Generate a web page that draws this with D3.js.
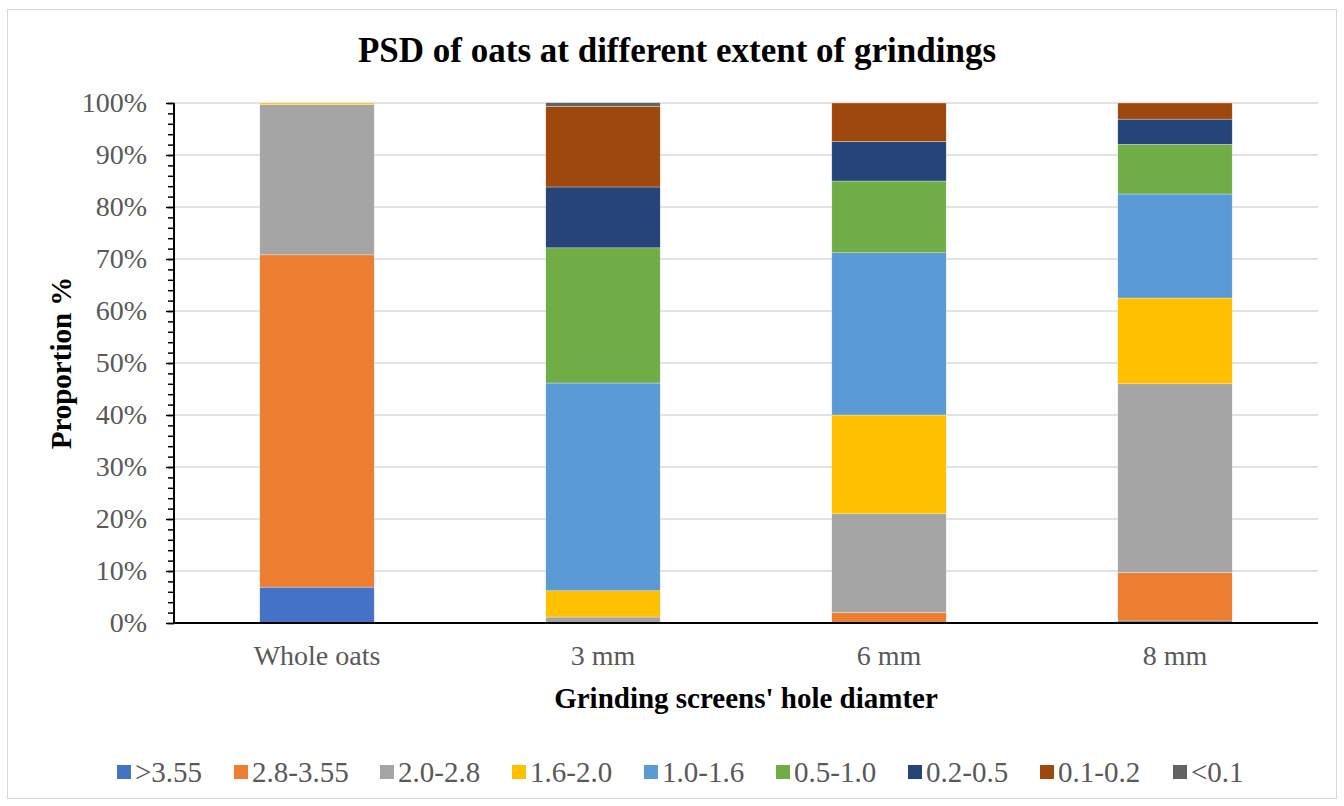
<!DOCTYPE html>
<html><head><meta charset="utf-8">
<script src="https://cdn.jsdelivr.net/npm/d3@7"></script>
<style>body{margin:0;background:#fff}svg{display:block}</style>
</head><body>
<svg id="c" width="1344" height="806"></svg>
<script>
const categories = ["Whole oats", "3 mm", "6 mm", "8 mm"];
const seriesNames = [">3.55", "2.8-3.55", "2.0-2.8", "1.6-2.0", "1.0-1.6", "0.5-1.0", "0.2-0.5", "0.1-0.2", "<0.1"];
const colors = ["#4472C4", "#ED7D31", "#A5A5A5", "#FFC000", "#5B9BD5", "#70AD47", "#264478", "#9E480E", "#636363"];
const s_gt355 = [6.9, 0, 0, 0.4];
const s_28_355 = [63.9, 0, 2.0, 9.3];
const s_20_28 = [28.9, 1.15, 19.0, 36.3];
const s_16_20 = [0.3, 5.05, 19.0, 16.5];
const s_10_16 = [0, 39.95, 31.2, 20.0];
const s_05_10 = [0, 26.0, 13.8, 9.55];
const s_02_05 = [0, 11.7, 7.6, 4.85];
const s_01_02 = [0, 15.5, 7.4, 3.1];
const s_lt01 = [0, 0.7, 0, 0];
const yTicks = [0, 10, 20, 30, 40, 50, 60, 70, 80, 90, 100];

const seriesVals = [s_gt355, s_28_355, s_20_28, s_16_20, s_10_16, s_05_10, s_02_05, s_01_02, s_lt01];
const rows = categories.map((c, i) => {
  const r = {cat: c};
  seriesNames.forEach((s, j) => r[s] = seriesVals[j][i]);
  return r;
});
const stack = d3.stack().keys(seriesNames)(rows);

const svg = d3.select("#c");
const serif = "Liberation Serif, Times New Roman, serif";
svg.append("rect").attr("x", 7.5).attr("y", 9.5).attr("width", 1329).attr("height", 789)
  .attr("fill", "#fff").attr("stroke", "#d9d9d9").attr("stroke-width", 1);

const L = 174, R = 1318, T = 103, B = 623;
const x = d3.scaleBand().domain(categories).range([L, R]).paddingInner(0.6).paddingOuter(0.3);
const y = d3.scaleLinear().domain([0, 100]).range([B, T]);

// gridlines
svg.append("g").selectAll("line").data(yTicks.filter(d => d > 0)).join("line")
  .attr("x1", L).attr("x2", R).attr("y1", d => y(d)).attr("y2", d => y(d))
  .attr("stroke", "#d9d9d9").attr("stroke-width", 1.5);

// bars
svg.append("g").selectAll("g").data(stack).join("g")
  .attr("fill", (d, i) => colors[i])
  .selectAll("rect").data(d => d).join("rect")
  .attr("x", d => x(d.data.cat)).attr("width", x.bandwidth())
  .attr("y", d => y(d[1])).attr("height", d => Math.max(0, y(d[0]) - y(d[1])))
  .attr("stroke", "#fff").attr("stroke-width", 0.5).attr("stroke-opacity", 0.6);

// y axis
const ya = svg.append("g").attr("transform", `translate(${L},0)`)
  .call(d3.axisLeft(y).tickValues(d3.range(0, 101, 2)).tickSize(6).tickFormat(""));
ya.selectAll("line").attr("stroke", "#000").attr("stroke-width", 1.5);
ya.select(".domain").attr("stroke", "#000").attr("stroke-width", 2).attr("d", `M0,${B}V${T}`);
const yl = svg.append("g").attr("transform", `translate(${L},0)`)
  .call(d3.axisLeft(y).tickValues(yTicks).tickSize(8).tickPadding(19).tickFormat(d => d + "%"));
yl.select(".domain").remove();
yl.selectAll("line").attr("stroke", "#000").attr("stroke-width", 1.5);
yl.selectAll("text").style("font-family", serif).style("font-size", "28px").attr("fill", "#595959");

// x axis
const xa = svg.append("g").attr("transform", `translate(0,${B})`)
  .call(d3.axisBottom(x).tickSize(0).tickPadding(22));
xa.select(".domain").attr("stroke", "#000").attr("stroke-width", 2).attr("d", `M${L},0H${R}`);
xa.selectAll("text").style("font-family", serif).style("font-size", "28px").attr("fill", "#595959");

// titles
svg.append("text").attr("x", 677).attr("y", 62).attr("text-anchor", "middle")
  .style("font-family", serif).style("font-weight", "bold").style("font-size", "35px").attr("fill", "#000")
  .text("PSD of oats at different extent of grindings");
svg.append("text").attr("x", 746).attr("y", 708).attr("text-anchor", "middle")
  .style("font-family", serif).style("font-weight", "bold").style("font-size", "29px").attr("fill", "#000")
  .text("Grinding screens' hole diamter");
svg.append("text").attr("transform", "translate(71,363) rotate(-90)").attr("text-anchor", "middle")
  .style("font-family", serif).style("font-weight", "bold").style("font-size", "29px").attr("fill", "#000")
  .text("Proportion %");

// legend
const legX = [117, 234, 380, 512, 644, 776, 908, 1040, 1173];
const lg = svg.append("g").selectAll("g").data(seriesNames).join("g")
  .attr("transform", (d, i) => `translate(${legX[i]},765)`);
lg.append("rect").attr("width", 14).attr("height", 14).attr("fill", (d, i) => colors[i]);
lg.append("text").attr("x", 18).attr("y", 17).style("font-family", serif).style("font-size", "29px")
  .attr("fill", "#595959").text(d => d);
</script>
</body></html>
